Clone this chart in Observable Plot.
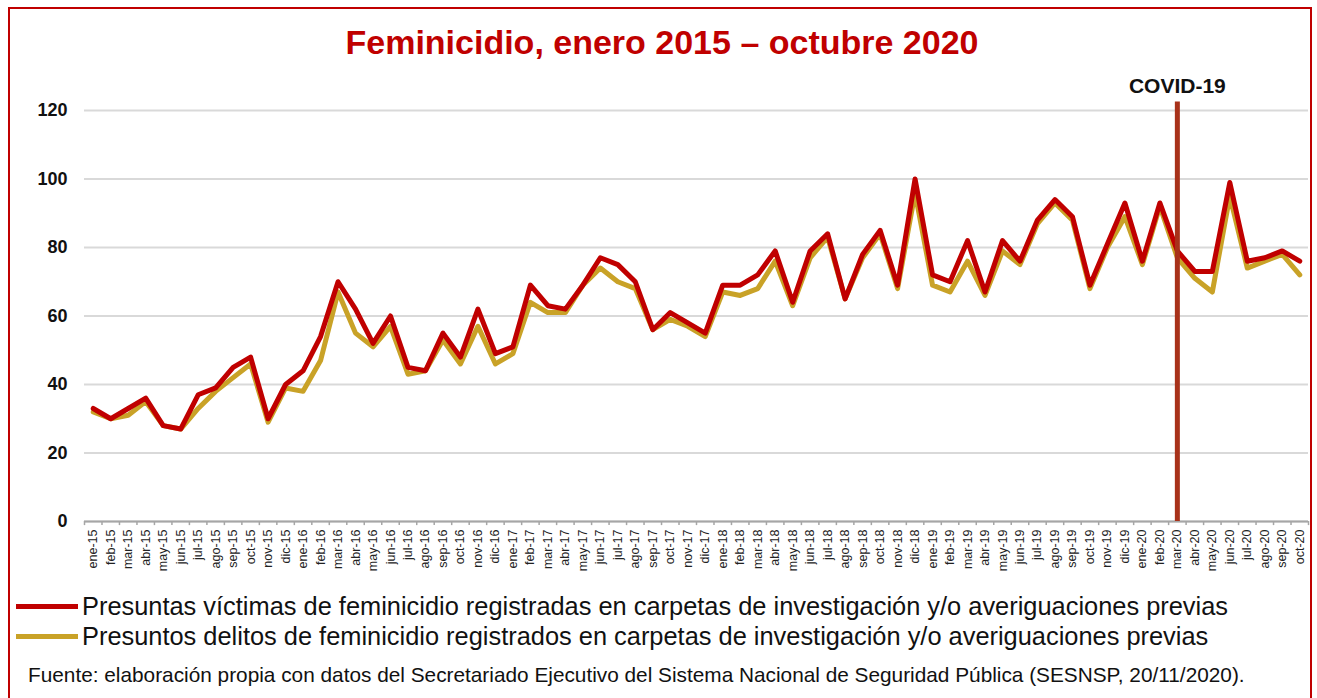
<!DOCTYPE html>
<html>
<head>
<meta charset="utf-8">
<script src="https://cdn.jsdelivr.net/npm/d3@7"></script>
<script src="https://cdn.jsdelivr.net/npm/@observablehq/plot@0.6"></script>
<style>
  html, body { margin: 0; padding: 0; background: #fff; }
  body { width: 1317px; height: 698px; overflow: hidden; position: relative; font-family: "Liberation Sans", Arial, sans-serif; }
  #frame { position: absolute; left: 8px; top: 7px; width: 1304px; height: 700px; border: 2px solid #C00000; box-sizing: border-box; }
  #title { position: absolute; left: 0; top: 23px; width: 1324px; text-align: center; font-size: 34px; font-weight: bold; color: #C00000; line-height: 38px; }
  #chart { position: absolute; left: 0; top: 72px; }
  .leg { position: absolute; left: 16px; display: flex; align-items: center; height: 30px; }
  .sw { width: 62px; height: 5px; margin-right: 4px; }
  .lt { font-size: 25.4px; color: #111; white-space: nowrap; }
  #caption { position: absolute; left: 28px; top: 663px; font-size: 20.8px; color: #111; white-space: nowrap; }
</style>
</head>
<body>
<div id="frame"></div>
<div id="title">Feminicidio, enero 2015 – octubre 2020</div>
<div id="chart"></div>
<div class="leg" style="top:591px"><div class="sw" style="background:#C00000"></div><div class="lt">Presuntas víctimas de feminicidio registradas en carpetas de investigación y/o averiguaciones previas</div></div>
<div class="leg" style="top:621px"><div class="sw" style="background:#C9A227"></div><div class="lt">Presuntos delitos de feminicidio registrados en carpetas de investigación y/o averiguaciones previas</div></div>
<div id="caption">Fuente: elaboración propia con datos del Secretariado Ejecutivo del Sistema Nacional de Seguridad Pública (SESNSP, 20/11/2020).</div>
<script>
const months = [
  "ene-15","feb-15","mar-15","abr-15","may-15","jun-15","jul-15","ago-15","sep-15","oct-15","nov-15","dic-15",
  "ene-16","feb-16","mar-16","abr-16","may-16","jun-16","jul-16","ago-16","sep-16","oct-16","nov-16","dic-16",
  "ene-17","feb-17","mar-17","abr-17","may-17","jun-17","jul-17","ago-17","sep-17","oct-17","nov-17","dic-17",
  "ene-18","feb-18","mar-18","abr-18","may-18","jun-18","jul-18","ago-18","sep-18","oct-18","nov-18","dic-18",
  "ene-19","feb-19","mar-19","abr-19","may-19","jun-19","jul-19","ago-19","sep-19","oct-19","nov-19","dic-19",
  "ene-20","feb-20","mar-20","abr-20","may-20","jun-20","jul-20","ago-20","sep-20","oct-20"
];
const victimas = [
  33,30,33,36,28,27,37,39,45,48,30,40,
  44,54,70,62,52,60,45,44,55,48,62,49,
  51,69,63,62,69,77,75,70,56,61,58,55,
  69,69,72,79,64,79,84,65,78,85,69,100,
  72,70,82,67,82,76,88,94,89,69,81,93,
  76,93,79,73,73,99,76,77,79,76
];
const delitos = [
  32,30,31,35,28,27,33,38,42,46,29,39,
  38,47,67,55,51,57,43,44,53,46,57,46,
  49,64,61,61,69,74,70,68,56,59,57,54,
  67,66,68,76,63,77,83,65,77,84,68,96,
  69,67,76,66,79,75,87,93,88,68,80,89,
  75,92,77,71,67,95,74,76,78,72
];
const yTicks = [0,20,40,60,80,100,120];
const covidMonth = "mar-20";
const covidLabel = "COVID-19";

const data = months.map((m, i) => ({i, m, v: victimas[i], d: delitos[i]}));
const covidIndex = months.indexOf(covidMonth);

const chart = Plot.plot({
  width: 1317,
  height: 516,
  marginLeft: 84,
  marginRight: 9,
  marginTop: 38,
  marginBottom: 67,
  x: {type: "linear", domain: [-0.5, months.length - 0.5]},
  y: {domain: [0, 120]},
  style: {fontFamily: "'Liberation Sans', Arial, sans-serif", background: "transparent", overflow: "visible"},
  marks: [
    Plot.gridY(yTicks, {stroke: "#d9d9d9", strokeOpacity: 1, strokeWidth: 2}),
    Plot.axisY(yTicks, {tickSize: 0, tickPadding: 17, fontSize: 18, fontWeight: "bold", fill: "#111", label: null}),
    Plot.axisX(d3.range(months.length), {tickSize: 0, tickPadding: 8, tickRotate: -90, tickFormat: i => months[i], fontSize: 12.5, fill: "#222", label: null}),
    Plot.ruleY([0], {stroke: "#a6a6a6", strokeWidth: 2}),
    Plot.ruleX(d3.range(months.length + 1).map(i => i - 0.5), {y1: 0, y2: -1.2, stroke: "#a6a6a6", strokeWidth: 1.5}),
    Plot.lineY(data, {x: "i", y: "d", stroke: "#C9A227", strokeWidth: 5}),
    Plot.lineY(data, {x: "i", y: "v", stroke: "#C00000", strokeWidth: 5}),
    Plot.ruleX([covidIndex], {y1: 0, y2: 122.5, stroke: "#A8321A", strokeWidth: 5}),
    Plot.text([covidLabel], {x: covidIndex, y: 127, text: d => d, fontSize: 21, fontWeight: "bold", fill: "#111"})
  ]
});
document.getElementById("chart").appendChild(chart);
</script>
</body>
</html>
